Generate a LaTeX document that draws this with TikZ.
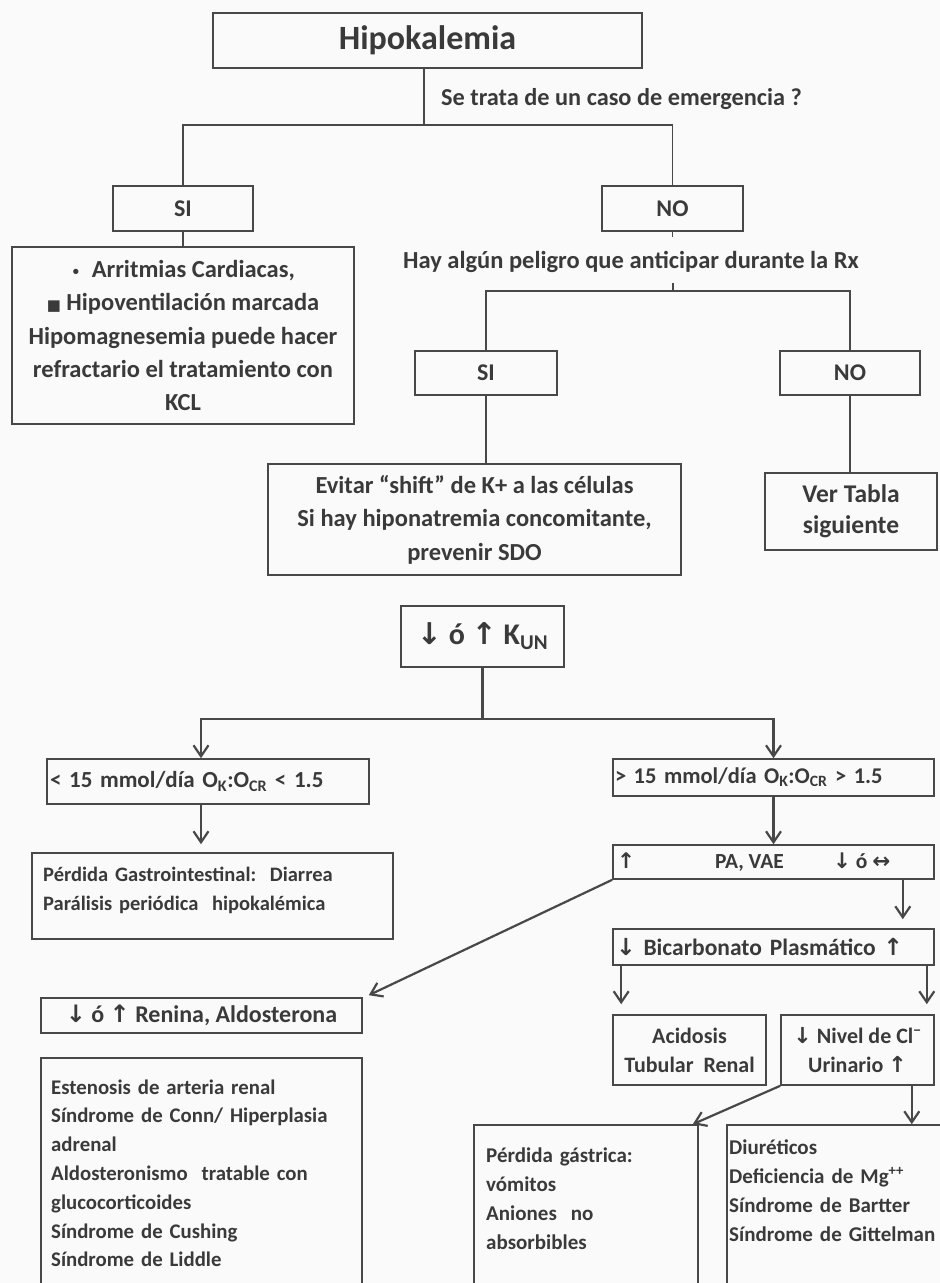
\documentclass[tikz,border=0pt]{standalone}
\usepackage{fontspec}
\setmainfont{Carlito}
\newfontfamily\simbolos{DejaVu Sans}
\usetikzlibrary{arrows.meta}

\definecolor{gristrazo}{RGB}{72,72,72}
\definecolor{gristexto}{RGB}{58,58,58}
\definecolor{fondo}{RGB}{250,250,250}

\newcommand{\tam}[2]{\fontsize{#1}{#2}\selectfont\bfseries}
\newcommand{\abajo}{{\simbolos ↓}}
\newcommand{\arriba}{{\simbolos ↑}}
\newcommand{\ambos}{{\simbolos ↔}}
\newcommand{\punto}{{\fontsize{15}{15}\selectfont\simbolos •}}
\newcommand{\cuadro}{{\fontsize{15}{15}\selectfont\simbolos ■}}

\tikzset{
	caja/.style={draw=gristrazo, line width=1.6pt, inner sep=0pt, text=gristexto},
	texto/.style={inner sep=0pt, text=gristexto},
	union/.style={draw=gristrazo, line width=1.3pt},
	flecha/.style={draw=gristrazo, line width=2.2pt, -{Straight Barb[length=11pt,width=15pt]}}
}

\begin{document}
\begin{tikzpicture}[x=1pt, y=-1pt]
	\useasboundingbox (0,0) rectangle (940,1283);
	\clip (0,0) rectangle (940,1283);
	\fill[fondo] (0,0) rectangle (940,1283);

	\node[caja, minimum width=429pt, minimum height=55pt, font=\tam{34}{40}] (hipo) at (427.5,40.5) {Hipokalemia};
	\node[texto, anchor=base west, font=\tam{24.3}{30}] (pregunta1) at (441,105) {Se trata de un caso de emergencia ?};
	\node[caja, minimum width=140pt, minimum height=45pt, font=\tam{24}{28}] (si1) at (183,208.5) {SI};
	\node[caja, minimum width=141pt, minimum height=45pt, font=\tam{24}{28}] (no1) at (672.5,208.5) {NO};
	\node[caja, minimum width=342pt, minimum height=177pt, align=center, font=\tam{24.5}{33.25}] (arritmias) at (183,335.5) {\punto\ \ Arritmias Cardiacas,\\ \cuadro\ Hipoventilación marcada\\ Hipomagnesemia puede hacer\\ refractario el tratamiento con\\ KCL};
	\node[texto, anchor=base west, font=\tam{24.5}{30}] (pregunta2) at (403,268) {Hay algún peligro que anticipar durante la Rx};
	\node[caja, minimum width=142pt, minimum height=44pt, font=\tam{24}{28}] (si2) at (486,373) {SI};
	\node[caja, minimum width=140pt, minimum height=44pt, font=\tam{24}{28}] (no2) at (850,373) {NO};
	\node[caja, minimum width=413pt, minimum height=111pt, align=center, font=\tam{24.5}{33.5}] (evitar) at (474.5,519.5) {Evitar “shift” de K+ a las células\\ Si hay hiponatremia concomitante,\\ prevenir SDO};
	\node[caja, minimum width=172pt, minimum height=77pt, align=center, font=\tam{25.5}{31}] (tabla) at (851,511.5) {Ver Tabla\\ siguiente};

	\coordinate (c1) at (424,125);
	\coordinate (c2) at (672.5,237);
	\coordinate (c3) at (673,283);
	\coordinate (c4) at (673,291);
	\draw[union] (hipo.south -| c1) -- (c1);
	\draw[union] (si1.north) |- (c1) -| (no1.north);
	\draw[union] (si1.south) -- (arritmias.north);
	\draw[union] (no1.south) -- (c2);
	\draw[union] (c3) -- (c4);
	\draw[union] (si2.north) |- (c4) -| (no2.north);
	\draw[union] (si2.south) -- (si2.south |- evitar.north);
	\draw[union] (no2.south) -- (no2.south |- tabla.north);

	\node[caja, minimum width=163pt, minimum height=61pt, font=\tam{30}{34}] (kun) at (482.5,636.5) {\abajo{} ó \arriba{} K\textsubscript{UN}};
	\node[caja, minimum width=322pt, minimum height=45pt, text width=316pt, align=left, font=\tam{23}{28}] (menor) at (208,781.5) {< 15 mmol/día O\textsubscript{K}:O\textsubscript{CR} < 1.5};
	\node[caja, minimum width=361pt, minimum height=86pt] (digestiva) at (212.5,896) {};
	\node[texto, anchor=base west, text width=340pt, align=left, font=\tam{20.5}{29}] (digestivatexto) at (43,881) {Pérdida Gastrointestinal:\ \ Diarrea\\ Parálisis periódica\ \ hipokalémica};
	\node[caja, minimum width=321pt, minimum height=37pt, text width=317pt, align=left, font=\tam{22.5}{26}] (mayor) at (773.5,777.5) {> 15 mmol/día O\textsubscript{K}:O\textsubscript{CR} > 1.5};
	\node[caja, minimum width=321pt, minimum height=34pt, font=\tam{21.5}{26}] (pa) at (773.5,862) {\makebox[321pt][l]{\hspace{4pt}\rlap{\arriba}\hspace{98pt}\rlap{PA, VAE}\hspace{118pt}\rlap{\abajo{} ó \ambos}}};
	\node[caja, minimum width=321pt, minimum height=36pt, text width=315pt, align=left, font=\tam{23.5}{28}] (bicarb) at (773.5,947) {\abajo{} Bicarbonato Plasmático \arriba};
	\node[caja, minimum width=321pt, minimum height=35pt, font=\tam{24}{30}] (renina) at (201.5,1015.5) {\abajo{} ó \arriba{} Renina, Aldosterona};
	\node[caja, minimum width=321pt, minimum height=260pt] (causas) at (201.5,1188) {};
	\node[texto, anchor=base west, text width=300pt, align=left, font=\tam{20.8}{28.8}] (causastexto) at (51,1094) {Estenosis\ de arteria\ renal\\ Síndrome\ de Conn/\ Hiperplasia\\ adrenal\\ Aldosteronismo\ \ tratable\ con\\ glucocorticoides\\ Síndrome\ de Cushing\\ Síndrome\ de Liddle};
	\node[caja, minimum width=153pt, minimum height=70pt, align=center, font=\tam{22}{29}] (acidosis) at (689.5,1050) {Acidosis\\ Tubular\ \ Renal};
	\node[caja, minimum width=153pt, minimum height=70pt, align=center, font=\tam{22}{29}] (nivel) at (857.5,1050) {\abajo{} Nivel de Cl\textsuperscript{−}\\ Urinario \arriba};
	\node[caja, minimum width=224pt, minimum height=200pt] (gastrica) at (586,1225) {};
	\node[texto, anchor=base west, text width=200pt, align=left, font=\tam{21}{29}] (gastricatexto) at (486,1162) {Pérdida gástrica:\\ vómitos\\ Aniones\ \ no\\ absorbibles};
	\node[caja, minimum width=233pt, minimum height=200pt] (diureticos) at (843.5,1225) {};
	\node[texto, anchor=base west, text width=210pt, align=left, font=\tam{21}{29}] (diureticostexto) at (729,1154) {Diuréticos\\ Deficiencia de Mg\textsuperscript{++}\\ Síndrome de Bartter\\ Síndrome de Gittelman};

	\coordinate (c5) at (482.5,719);
	\draw[union, line width=2.2pt] (kun.south) -- (c5);
	\draw[flecha] (c5) -| ([xshift=-7pt]menor.north);
	\draw[flecha] (c5) -| (mayor.north);
	\draw[flecha, shorten >=8pt] ([xshift=-7pt]menor.south) -- ([xshift=-7pt]menor.south |- digestiva.north);
	\draw[flecha] (mayor.south) -- (pa.north);
	\draw[flecha] (pa.south west) -- ([xshift=6pt,yshift=2pt]renina.north east);
	\draw[flecha, shorten >=9pt] ([xshift=-32pt]pa.south east) -- ([xshift=-32pt]bicarb.north east);
	\draw[flecha, shorten >=10pt] ([xshift=9pt]bicarb.south west) -- ([xshift=9pt]acidosis.north west);
	\draw[flecha, shorten >=10pt] ([xshift=-8pt]bicarb.south east) -- ([xshift=-8pt]nivel.north east);
	\draw[flecha] (nivel.south west) -- ([xshift=-6pt]gastrica.north east);
	\draw[flecha] ([xshift=-23pt]nivel.south east) -- ([xshift=-23pt]nivel.south east |- diureticos.north);
\end{tikzpicture}
\end{document}
